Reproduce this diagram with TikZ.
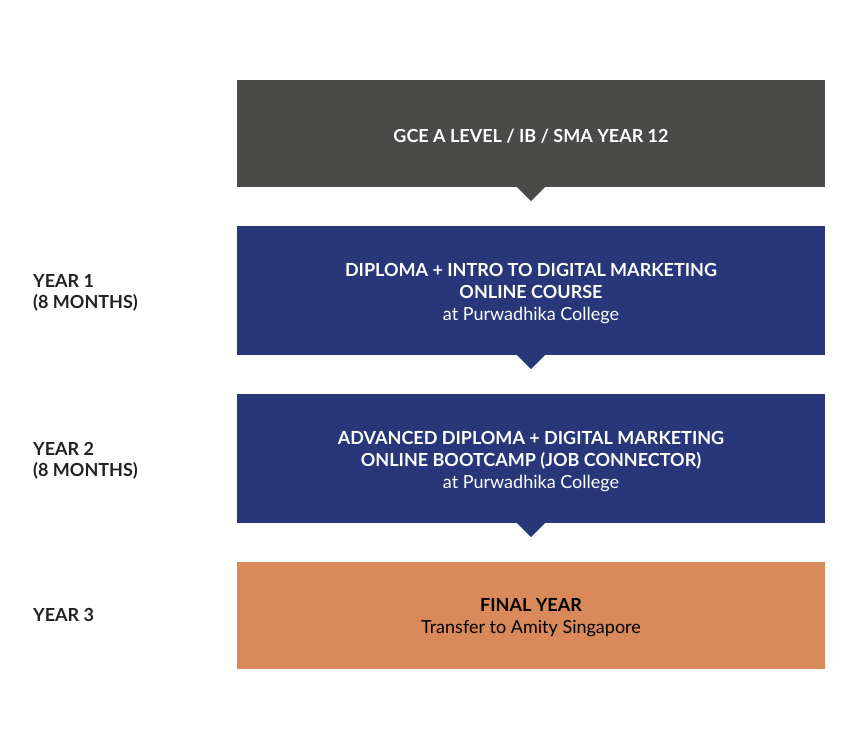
\documentclass[tikz,border=0pt]{standalone}
\usepackage{fontspec}
\setmainfont{Lato}
\usepackage{xcolor}
\usetikzlibrary{positioning,calc}

\definecolor{greybox}{HTML}{4A4A48}
\definecolor{navybox}{HTML}{283779}
\definecolor{orangebox}{HTML}{D9895A}
\definecolor{labeltext}{HTML}{222222}

\tikzset{
    stagebox/.style={rectangle, minimum width=588pt, inner sep=0pt},
    boxtext/.style={align=center, inner sep=0pt, yshift=-3pt,
        font=\fontsize{18}{22}\selectfont, text=white},
    yearlabel/.style={anchor=west, align=left, inner sep=0pt,
        font=\fontsize{18}{21}\selectfont\bfseries, text=labeltext},
}

\begin{document}
\begin{tikzpicture}[x=1pt, y=-1pt]
    \useasboundingbox[fill=white] (0,0) rectangle (858,749);
    % stages
    \node[stagebox, fill=greybox, minimum height=107pt,
        label={[boxtext]center:\textbf{GCE A LEVEL / IB / SMA YEAR 12}}] (school) at (531,133.5) {};
    \node[stagebox, fill=navybox, minimum height=129pt,
        label={[boxtext]center:\textbf{DIPLOMA + INTRO TO DIGITAL MARKETING}\\
         \textbf{ONLINE COURSE}\\at Purwadhika College}] (yearone) at (531,290.5) {};
    \node[stagebox, fill=navybox, minimum height=129pt,
        label={[boxtext]center:\textbf{ADVANCED DIPLOMA + DIGITAL MARKETING}\\
         \textbf{ONLINE BOOTCAMP (JOB CONNECTOR)}\\at Purwadhika College}] (yeartwo) at (531,458.5) {};
    \node[stagebox, fill=orangebox, minimum height=107pt,
        label={[boxtext, text=black]center:\textbf{FINAL YEAR}\\Transfer to Amity Singapore}] (final) at (531,615) {};
    % notches below the boxes
    \fill[greybox] ($(school.south)+(-14,0)$) -- ++(28,0) -- ++(-14,14) -- cycle;
    \fill[navybox] ($(yearone.south)+(-14,0)$) -- ++(28,0) -- ++(-14,14) -- cycle;
    \fill[navybox] ($(yeartwo.south)+(-14,0)$) -- ++(28,0) -- ++(-14,14) -- cycle;
    % year labels
    \node[yearlabel] (lblone) at (33,292.5) {YEAR 1\\(8 MONTHS)};
    \node[yearlabel] (lbltwo) at (33,460.5) {YEAR 2\\(8 MONTHS)};
    \node[yearlabel] (lblthree) at (33,615) {YEAR 3};
\end{tikzpicture}
\end{document}
